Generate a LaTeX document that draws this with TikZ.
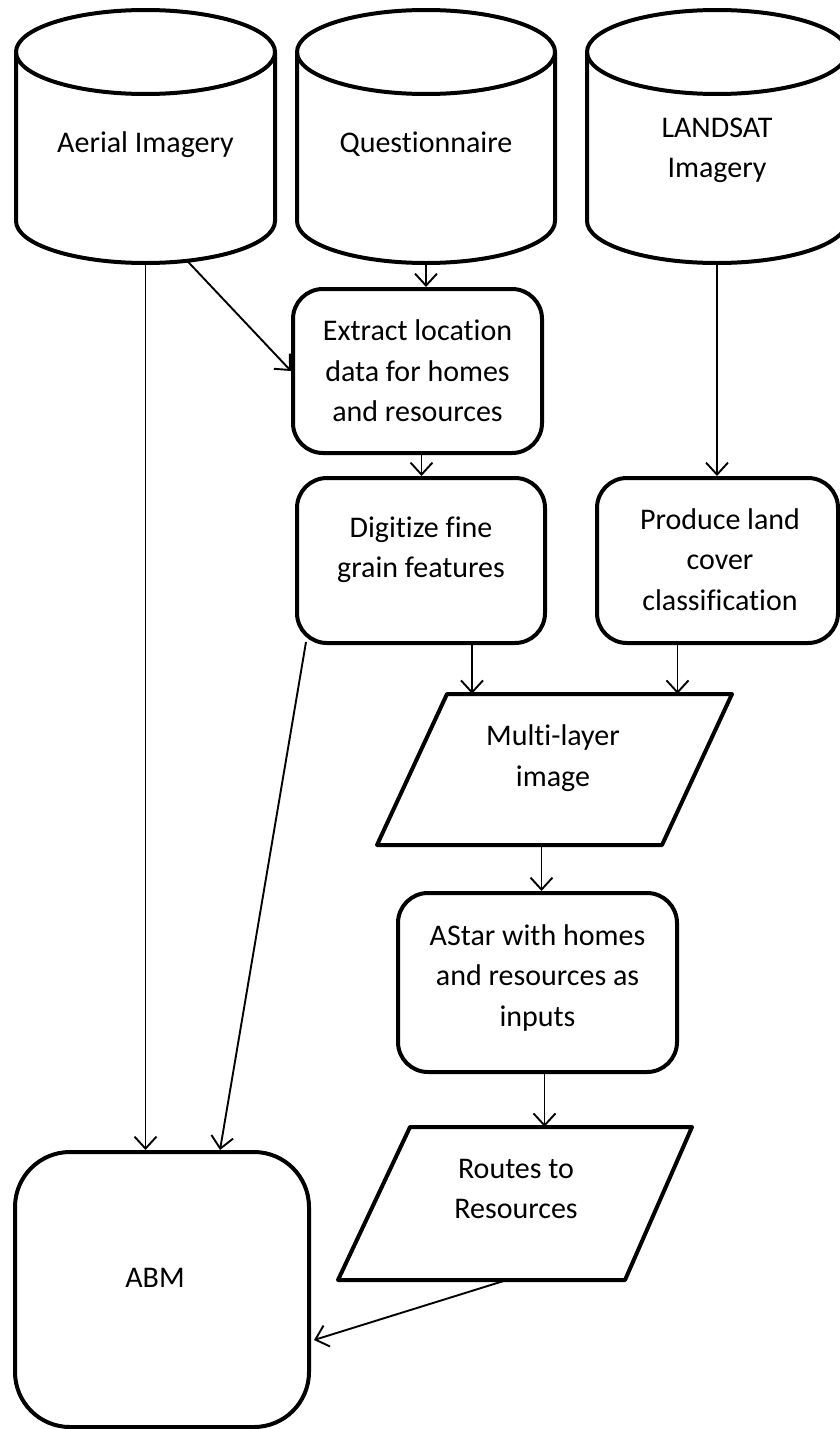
\documentclass[tikz,border=0pt]{standalone}
\usepackage{fontspec}
\setmainfont{Carlito}[Ligatures=CommonOff]
\usetikzlibrary{arrows.meta,calc}
\begin{document}
\begin{tikzpicture}[x=1pt,y=1pt,
  shp/.style={line width=4pt, line join=round},
  box/.style={draw, line width=4pt, rounded corners=30pt, inner sep=0pt},
  ghost/.style={inner sep=0pt, draw=none},
  arr/.style={line width=1.9pt, -{Straight Barb[length=12pt,width=22pt]}},
  every label/.style={font=\fontsize{30}{40.5}\selectfont, align=center, inner sep=0pt}]
\useasboundingbox (0,0) rectangle (840,-1429);

% cylinders
\node[ghost, minimum width=259pt, minimum height=253pt, label={[yshift=-8pt]center:Aerial Imagery}] (aer) at (145.5,-136.5) {};
\draw[shp] (16,-52) -- (16,-221) arc(180:360:129.5 and 42) -- (275,-52) arc(0:180:129.5 and 42) -- cycle;
\draw[shp] (16,-52) arc(180:360:129.5 and 42);

\node[ghost, minimum width=258pt, minimum height=253pt, label={[yshift=-7.5pt]center:Questionnaire}] (que) at (426,-136.5) {};
\draw[shp] (297,-52) -- (297,-221) arc(180:360:129 and 42) -- (555,-52) arc(0:180:129 and 42) -- cycle;
\draw[shp] (297,-52) arc(180:360:129 and 42);

\node[ghost, minimum width=260pt, minimum height=253pt, label={[yshift=-14pt]center:LANDSAT\\Imagery}] (lan) at (717,-136.5) {};
\draw[shp] (587,-52) -- (587,-221) arc(180:360:130 and 42) -- (847,-52) arc(0:180:130 and 42) -- cycle;
\draw[shp] (587,-52) arc(180:360:130 and 42);

% process boxes
\node[box, minimum width=249pt, minimum height=164pt, label={[yshift=0pt]center:Extract location\\data for homes\\and resources}] (ext) at (417.5,-371) {};
\node[box, minimum width=248pt, minimum height=165pt, label={[yshift=10.5pt]center:Digitize fine\\grain features}] (dig) at (421,-560.5) {};
\node[box, minimum width=241pt, minimum height=165pt, label={[xshift=2.5pt,yshift=1pt]center:Produce land\\cover\\classification}] (pro) at (717.5,-560.5) {};
\node[box, minimum width=279pt, minimum height=179pt, label={[yshift=5pt]center:AStar with homes\\and resources as\\inputs}] (ast) at (537.5,-982.5) {};
\node[box, rounded corners=55pt, minimum width=294pt, minimum height=275pt, label={[xshift=-7pt,yshift=12pt]center:ABM}] (abm) at (162,-1289.5) {};

% data parallelograms
\node[ghost, minimum width=355pt, minimum height=151pt, label={[xshift=-1.5pt,yshift=11.5pt]center:Multi-layer\\image}] (ml) at (554.5,-769.5) {};
\draw[shp] (447,-694) -- (732,-694) -- (662,-845) -- (377,-845) -- cycle;
\node[ghost, minimum width=354pt, minimum height=153pt, label={[xshift=1pt,yshift=14.5pt]center:Routes to\\Resources}] (rou) at (515,-1203.5) {};
\draw[shp] (410,-1127) -- (692,-1127) -- (625,-1280) -- (338,-1280) -- cycle;

% connector start points
\coordinate (aerD) at ($(aer.south)+(42,2)$);
\coordinate (extS) at ($(ext.south)+(4,0)$);
\coordinate (digS) at ($(dig.south)+(51,0)$);
\coordinate (digW) at ($(dig.south west)+(11,3)$);
\coordinate (abmN) at ($(abm.north)+(58,0)$);
\coordinate (proS) at ($(pro.south)+(-40,0)$);
\coordinate (mlS) at ($(ml.south)+(-13,0)$);
\coordinate (astS) at ($(ast.south)+(7,0)$);
\coordinate (rouS) at ($(rou.south)+(-12,-1)$);
\coordinate (abmE) at ($(abm.east)+(3,-50.5)$);

% connectors
\draw[arr] (aer.south) -- (aer.south |- abm.north);
\draw[arr] (aerD) -- (ext.west);
\draw[arr] (que.south) -- (que.south |- ext.north);
\draw[arr] (extS) -- (extS |- dig.north);
\draw[arr] (digS) -- (digS |- ml.north);
\draw[arr] (digW) -- (abmN);
\draw[arr] (lan.south) -- (lan.south |- pro.north);
\draw[arr] (proS) -- (proS |- ml.north);
\draw[arr] (mlS) -- (mlS |- ast.north);
\draw[arr] (astS) -- (astS |- rou.north);
\draw[arr] (rouS) -- (abmE);
\end{tikzpicture}
\end{document}
